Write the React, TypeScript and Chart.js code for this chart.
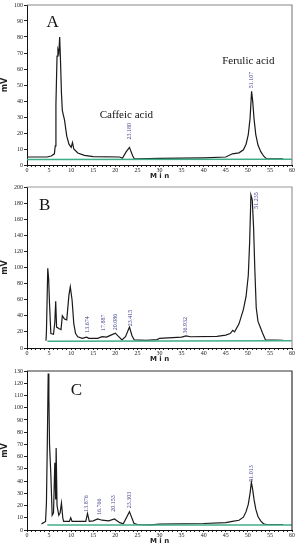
import React, { useEffect, useRef } from "react";
import { Chart, registerables } from "chart.js";
Chart.register(...registerables);

// ---------- DATA ----------
const timeMin = 0;
const timeMax = 60;

// Panel A trace: [min, mV]
const traceA: [number, number][] = [
  [0, 5], [4.5, 5], [5.5, 5.6], [6.2, 7], [6.4, 12], [6.55, 38], [6.8, 68], [7.0, 72], [7.2, 70], [7.4, 80],
  [7.6, 64], [7.8, 45], [8.0, 34], [8.5, 28], [9.0, 18], [9.5, 13], [10.0, 11], [10.3, 14], [10.6, 10],
  [11.5, 7.5], [13, 6], [15, 5.2], [21, 5], [21.6, 4.2], [22.4, 8], [23.2, 11], [23.9, 6], [24.3, 3.8],
  [25, 3.8], [30, 4.1], [40, 4.5], [45, 5], [46.5, 7], [48, 7.6], [49.0, 9.5], [49.6, 13], [50.1, 19],
  [50.5, 29], [50.85, 46], [51.1, 40], [51.4, 29], [51.8, 19], [52.3, 12.5], [52.9, 8.5], [53.6, 5.5],
  [54.2, 4], [55, 3.8], [58, 3.8]
];
const baselineA: [number, number][] = [[0, 3.4], [60, 3.6]];

// Panel B trace
const traceB: [number, number][] = [
  [4.3, 9], [4.4, 20], [4.7, 99], [4.9, 86], [5.1, 55], [5.4, 18], [6.0, 17], [6.3, 32], [6.5, 58], [6.7, 26],
  [7.3, 24], [7.7, 23], [8.0, 40], [8.5, 36], [9.0, 35], [9.5, 66], [9.8, 76], [10.2, 60], [10.6, 30],
  [11.0, 18], [11.5, 14], [12.5, 12], [13.5, 13.5], [14, 12], [16, 12], [17, 14], [18, 13.5], [19, 16],
  [20, 18.5], [20.6, 15], [21.5, 10], [22.3, 14], [23.2, 26], [23.8, 15], [24.3, 10], [27, 9.5],
  [29.5, 10.5], [30, 12], [35, 13.5], [36, 15], [37, 14], [43, 14.5], [45, 16], [46, 18], [46.6, 22],
  [47, 20], [48, 30], [49, 48], [49.6, 64], [50.1, 90], [50.4, 130], [50.7, 190], [51.0, 184],
  [51.3, 150], [51.6, 95], [51.9, 50], [52.3, 33], [52.8, 26], [53.3, 19], [54, 10], [58, 9.5]
];
const baselineB: [number, number][] = [[4.6, 8.5], [60, 9]];

// Panel C trace
const traceC: [number, number][] = [
  [3.3, 5], [4.2, 7], [4.4, 22], [4.6, 71], [4.8, 128], [4.95, 110], [5.1, 70], [5.4, 45], [5.7, 12],
  [6.0, 14], [6.3, 55], [6.5, 25], [6.6, 67], [6.8, 20], [7.2, 12], [7.5, 14], [7.8, 22], [8.1, 10],
  [8.3, 7], [9.6, 7], [9.9, 10], [10.2, 7], [13.3, 7], [13.7, 13.5], [14.1, 7], [15, 7.5], [16, 9],
  [17, 8], [18.5, 7.5], [19.8, 9], [21, 6], [21.8, 5], [23.2, 15], [24.2, 5.5], [25, 4.5], [28, 4.2],
  [30, 4.8], [40, 5.3], [45, 6], [46.5, 7], [48, 8], [49.0, 10.5], [49.6, 15], [50.1, 21], [50.5, 30],
  [50.8, 39], [51.1, 33], [51.4, 25], [51.8, 17], [52.3, 11], [52.9, 7.5], [53.6, 5], [54.2, 4.5], [58, 4.5]
];
const baselineC: [number, number][] = [[4.6, 4], [60, 4]];

// Y axis ranges / steps
const yMaxA = 100, yStepA = 10;
const yMaxB = 200, yStepB = 20;
const yMaxC = 130, yStepC = 10;

// Peak retention-time labels: [x, baseValue, text]
const peaksA: [number, number, string][] = [[23.1, 16, "23.180"], [50.85, 48, "51.107"]];
const peaksB: [number, number, string][] = [
  [13.6, 19, "13.674"], [17.2, 21, "17.887"], [20.0, 22, "20.086"], [23.4, 27, "23.415"],
  [35.9, 18, "36.932"], [52.0, 173, "51.235"]
];
const peaksC: [number, number, string][] = [
  [13.4, 15, "13.876"], [16.3, 12.3, "16.766"], [19.6, 15, "20.153"], [23.2, 17.7, "23.303"],
  [50.9, 39.5, "51.013"]
];

// Panel letters and compound names: [x, y, text]
const lettersA: [number, number, string][] = [[5.8, 89, "A"]];
const lettersB: [number, number, string][] = [[4.0, 177, "B"]];
const lettersC: [number, number, string][] = [[11.2, 113.7, "C"]];
const namesA: [number, number, string][] = [[22.5, 31, "Caffeic acid"], [50.1, 64.8, "Ferulic acid"]];

// ---------- PLUGIN ----------
const annotPlugin = {
  id: "annot",
  afterDatasetsDraw(chart: any, _args: any, opts: any) {
    const { ctx, chartArea, scales } = chart;
    const xs = scales.x, ys = scales.y;
    ctx.save();
    // frame
    ctx.strokeStyle = opts.frameColor || "#888";
    ctx.lineWidth = opts.frameWidth || 1;
    ctx.beginPath();
    ctx.moveTo(chartArea.left, chartArea.top);
    ctx.lineTo(chartArea.right, chartArea.top);
    ctx.lineTo(chartArea.right, chartArea.bottom);
    ctx.stroke();
    // peak labels
    ctx.fillStyle = "#3c3c8c";
    ctx.font = "6px 'Liberation Serif'";
    ctx.textAlign = "left";
    ctx.textBaseline = "middle";
    (opts.peaks || []).forEach((p: [number, number, string]) => {
      const px = xs.getPixelForValue(p[0]);
      const py = ys.getPixelForValue(p[1]);
      ctx.save();
      ctx.translate(px, py);
      ctx.rotate(-Math.PI / 2);
      ctx.fillText(p[2], 0, 0);
      ctx.restore();
    });
    // letters
    ctx.fillStyle = "#111";
    ctx.textAlign = "center";
    ctx.font = "17px 'Liberation Serif'";
    (opts.letters || []).forEach((p: [number, number, string]) => {
      ctx.fillText(p[2], xs.getPixelForValue(p[0]), ys.getPixelForValue(p[1]));
    });
    ctx.font = "11px 'Liberation Serif'";
    (opts.names || []).forEach((p: [number, number, string]) => {
      ctx.fillText(p[2], xs.getPixelForValue(p[0]), ys.getPixelForValue(p[1]));
    });
    ctx.restore();
  },
};

function toPts(arr: [number, number][]) {
  return arr.map(([x, y]) => ({ x, y }));
}

type PanelProps = {
  top: number;
  height: number;
  padTop: number;
  trace: [number, number][];
  baseline: [number, number][];
  yMax: number;
  yStep: number;
  peaks: [number, number, string][];
  letters: [number, number, string][];
  names: [number, number, string][];
  frameColor: string;
};

function Panel(p: PanelProps) {
  const ref = useRef<HTMLCanvasElement>(null);
  useEffect(() => {
    if (!ref.current) return;
    const tickFont = { family: "'Liberation Serif'", size: 6 };
    const chart = new Chart(ref.current, {
      type: "line",
      data: {
        datasets: [
          {
            data: toPts(p.baseline),
            borderColor: "#3fae86",
            borderWidth: 1.5,
            pointRadius: 0,
            order: 0,
          },
          {
            data: toPts(p.trace),
            borderColor: "#1a1a1a",
            borderWidth: 1.2,
            pointRadius: 0,
            tension: 0,
            order: 1,
          },
        ],
      },
      plugins: [annotPlugin],
      options: {
        animation: false,
        responsive: false,
        maintainAspectRatio: false,
        layout: { padding: { top: p.padTop, right: 6, left: 0, bottom: 0 } },
        plugins: {
          legend: { display: false },
          tooltip: { enabled: false },
          annot: {
            peaks: p.peaks,
            letters: p.letters,
            names: p.names,
            frameColor: p.frameColor,
            frameWidth: 1.2,
          },
        } as any,
        scales: {
          x: {
            type: "linear",
            min: timeMin,
            max: timeMax,
            ticks: {
              stepSize: 1,
              autoSkip: false,
              maxRotation: 0,
              padding: 0,
              color: "#222",
              font: tickFont,
              callback: (v: any) => (Number(v) % 5 === 0 ? String(v) : ""),
            },
            grid: { drawOnChartArea: false, drawTicks: true, tickLength: 2, color: "#222" },
            border: { color: "#111", width: 1 },
            title: {
              display: true,
              text: "M i n",
              color: "#222",
              font: { family: "'DejaVu Sans'", weight: "bold", size: 7 },
              padding: 0,
            },
            afterFit: (s: any) => {
              s.height = 15;
            },
          },
          y: {
            type: "linear",
            min: 0,
            max: p.yMax,
            ticks: {
              stepSize: p.yStep,
              padding: 1,
              color: "#222",
              font: tickFont,
            },
            grid: { drawOnChartArea: false, drawTicks: true, tickLength: 3, color: "#222" },
            border: { color: "#111", width: 1 },
            title: {
              display: true,
              text: "mV",
              color: "#222",
              font: { family: "'DejaVu Sans'", weight: "bold", size: 8 },
              padding: 0,
            },
            afterFit: (s: any) => {
              s.width = 27;
            },
          },
        },
      } as any,
    });
    return () => chart.destroy();
  }, []);
  return (
    <div style={{ position: "absolute", left: 0, top: p.top, width: 298, height: p.height }}>
      <canvas ref={ref} width={298} height={p.height} style={{ width: 298, height: p.height }} />
    </div>
  );
}

export default function App() {
  return (
    <div style={{ position: "absolute", left: 0, top: 0, width: 298, height: 550, background: "#fff" }}>
      <Panel top={0} height={180} padTop={5} trace={traceA} baseline={baselineA} yMax={yMaxA} yStep={yStepA}
        peaks={peaksA} letters={lettersA} names={namesA} frameColor="#888" />
      <Panel top={180} height={183} padTop={7} trace={traceB} baseline={baselineB} yMax={yMaxB} yStep={yStepB}
        peaks={peaksB} letters={lettersB} names={[]} frameColor="#999" />
      <Panel top={365} height={180} padTop={6} trace={traceC} baseline={baselineC} yMax={yMaxC} yStep={yStepC}
        peaks={peaksC} letters={lettersC} names={[]} frameColor="#333" />
    </div>
  );
}
